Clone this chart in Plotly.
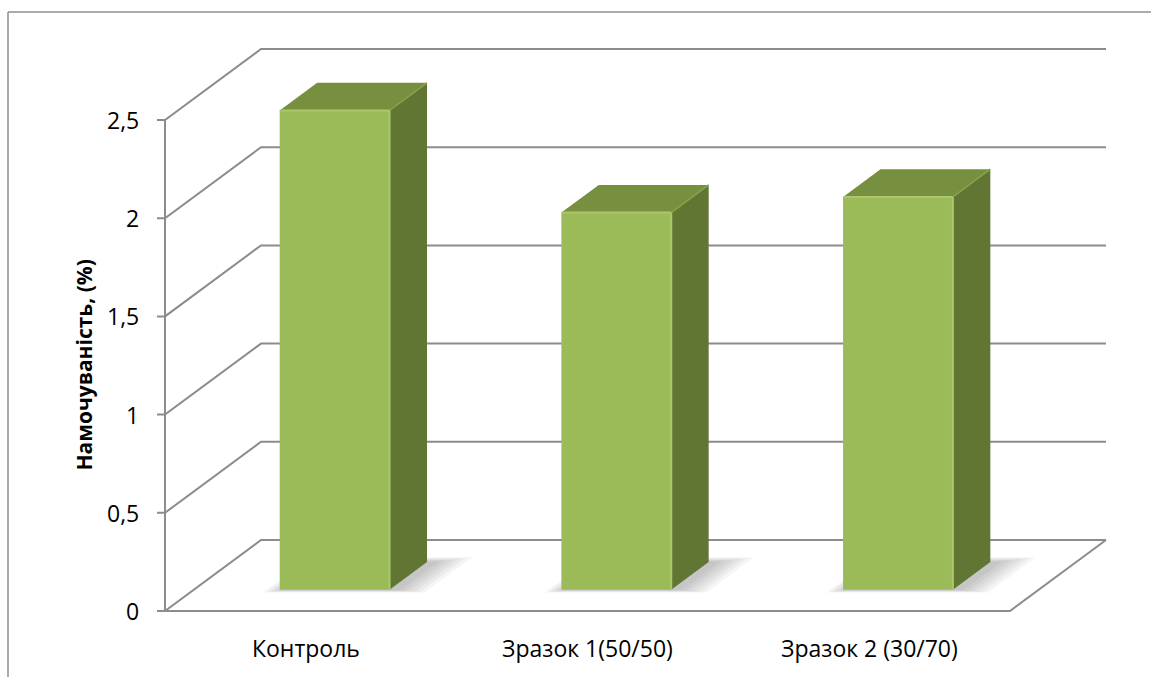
import plotly.graph_objects as go

# ---- data ----
categories = ["Контроль", "Зразок 1(50/50)", "Зразок 2 (30/70)"]
values = [2.44, 1.92, 2.00]
tick_vals = [0, 0.5, 1, 1.5, 2, 2.5]
tick_text = ["0", "0,5", "1", "1,5", "2", "2,5"]
y_title = "Намочуваність, (%)"

# ---- pseudo-3D geometry (data units) ----
W, H = 1151, 677
X0PX, Y0PX = 165, 611          # pixel of (x=0, value=0)
XSC, YSC = 281.67, 196.4       # pixels per unit
DX, DY = 96 / XSC, 71 / YSC    # full depth offset of the back wall
BAR_W = 0.39                   # bar width (category units)
D_FRONT, D_BACK = 0.30, 0.69   # bar depth span as fraction of wall depth
VMAX = tick_vals[-1]
N = len(categories)

GRID = "#8c8c8c"
FRONT = "#9bbb59"
TOP = "#77903f"
SIDE = "#617633"
EDGE = "#aac86b"
FONT = "Open Sans"


def proj(x, v, d):
    return x + d * DX, v + d * DY


fig = go.Figure()


def line(xs, ys, color=GRID, width=2):
    fig.add_trace(go.Scatter(x=xs, y=ys, mode="lines", hoverinfo="skip",
                             line=dict(color=color, width=width)))


def poly(pts, color, lw=0, lc=None):
    xs = [p[0] for p in pts] + [pts[0][0]]
    ys = [p[1] for p in pts] + [pts[0][1]]
    fig.add_trace(go.Scatter(x=xs, y=ys, mode="lines", fill="toself",
                             fillcolor=color, hoverinfo="skip",
                             line=dict(width=lw, color=lc or color)))


# gridlines: left wall diagonals + back wall horizontals
tick_len = 8 / XSC
for v in tick_vals:
    bx, by = proj(0, v, 1)
    bx2, _ = proj(N, v, 1)
    line([-tick_len, 0, bx, bx2], [v, v, by, by])

# front vertical axis
line([0, 0], [0, VMAX])
# floor front edge and right edge
fx, fy = proj(N, 0, 1)
line([0, N, fx], [0, 0, fy])

# soft shadows on the floor
for k in range(6, 0, -1):
    s = 0.011 * k
    for i in range(N):
        xl = i + 0.5 - BAR_W / 2 - s * 1.0 + 0.02
        xr = i + 0.5 + BAR_W / 2 + s * 1.8 + 0.02
        d1 = D_FRONT - s * 0.6
        d2 = D_BACK + s * 1.0
        pts = [proj(xl, 0, d1), proj(xr, 0, d1), proj(xr, 0, d2), proj(xl, 0, d2)]
        poly(pts, "rgba(0,0,0,0.04)")

# bars
for i, val in enumerate(values):
    xl = i + 0.5 - BAR_W / 2
    xr = i + 0.5 + BAR_W / 2
    # side face
    poly([proj(xr, 0, D_FRONT), proj(xr, 0, D_BACK),
          proj(xr, val, D_BACK), proj(xr, val, D_FRONT)], SIDE)
    # top face
    poly([proj(xl, val, D_FRONT), proj(xr, val, D_FRONT),
          proj(xr, val, D_BACK), proj(xl, val, D_BACK)], TOP)
    # front face
    poly([proj(xl, 0, D_FRONT), proj(xr, 0, D_FRONT),
          proj(xr, val, D_FRONT), proj(xl, val, D_FRONT)], FRONT)
    # bevel highlights
    a = proj(xl, val, D_FRONT)
    b = proj(xr, val, D_FRONT)
    c = proj(xr, 0, D_FRONT)
    line([a[0], b[0], c[0]], [a[1], b[1], c[1]], color=EDGE, width=2)
    e = proj(xr, val, D_BACK)
    line([b[0], e[0]], [b[1], e[1]], color="#86a34a", width=1.5)

# tick labels
for v, t in zip(tick_vals, tick_text):
    fig.add_annotation(x=-24 / XSC, y=v, text=t, showarrow=False,
                       xanchor="right", yanchor="middle",
                       font=dict(family=FONT, size=23, color="#000"))

# category labels
for i, c in enumerate(categories):
    fig.add_annotation(x=i + 0.5, y=-37 / YSC, text=c, showarrow=False,
                       xanchor="center", yanchor="middle",
                       font=dict(family=FONT, size=23, color="#000"))

# axis title
fig.add_annotation(x=-82 / XSC, y=VMAX / 2, text="<b>" + y_title + "</b>",
                   showarrow=False, textangle=-90,
                   xanchor="center", yanchor="middle",
                   font=dict(family=FONT, size=21, color="#000"))

# chart-area border (top and left)
fig.add_shape(type="line", xref="paper", yref="paper",
              x0=8 / W, x1=1.0, y0=1 - 12 / H, y1=1 - 12 / H,
              line=dict(color="#8f8f8f", width=1.5))
fig.add_shape(type="line", xref="paper", yref="paper",
              x0=8 / W, x1=8 / W, y0=0, y1=1 - 12 / H,
              line=dict(color="#8f8f8f", width=1.5))

fig.update_layout(
    width=W, height=H,
    margin=dict(l=0, r=0, t=0, b=0),
    paper_bgcolor="white", plot_bgcolor="white",
    showlegend=False,
    xaxis=dict(visible=False, range=[-X0PX / XSC, (W - X0PX) / XSC], fixedrange=True),
    yaxis=dict(visible=False, range=[(Y0PX - H) / YSC, Y0PX / YSC], fixedrange=True),
)

fig.write_html("out.html")
